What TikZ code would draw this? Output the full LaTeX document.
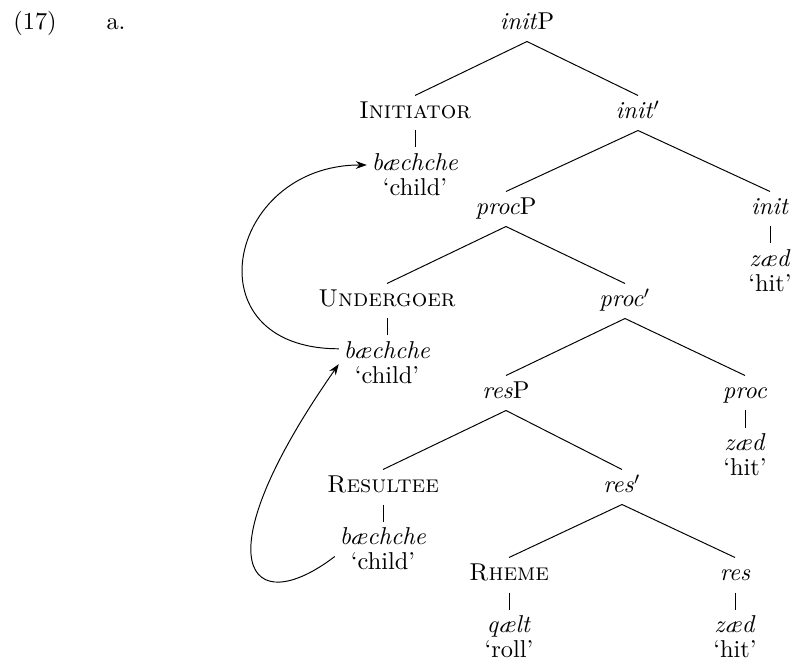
\documentclass[tikz,border=0pt]{standalone}
\usetikzlibrary{arrows.meta}
\tikzset{
  lab/.style={inner sep=1.9pt,text height=7.5pt,text depth=2.65pt},
  move/.style={-{Stealth[length=4.5pt,width=3.2pt]}}
}
\begin{document}
\begin{tikzpicture}[x=0.41pt,y=-0.41pt]
\useasboundingbox (0,0) rectangle (792,666);
%example number
\node[lab] (num) at (35,24) {(17)};
\node[lab] (sub) at (116,24) {a.};
%phrase labels
\node[lab] (initP) at (527,24) {\textit{init}P};
\node[lab] (initiator) at (415,113) {\textsc{Initiator}};
\node[lab] (initbar) at (638,113) {\textit{init}$'$};
\node[lab] (procP) at (506,209) {\textit{proc}P};
\node[lab] (init) at (770,209) {\textit{init}};
\node[lab] (undergoer) at (387,301) {\textsc{Undergoer}};
\node[lab] (procbar) at (625,301) {\textit{proc}$'$};
\node[lab] (resP) at (506,393) {\textit{res}P};
\node[lab] (proc) at (745,393) {\textit{proc}};
\node[lab] (resultee) at (383,487) {\textsc{Resultee}};
\node[lab] (resbar) at (622,487) {\textit{res}$'$};
\node[lab] (rheme) at (509,575) {\textsc{Rheme}};
\node[lab] (res) at (735,575) {\textit{res}};
%words and glosses
\node[lab] (bchA) at (415,165) {\textit{bæchche}};
\node[lab] (glA) at (415,190) {‘child’};
\node[lab] (zedA) at (770,261) {\textit{zæd}};
\node[lab] (glzA) at (770,286) {‘hit’};
\node[lab] (bchB) at (387,353) {\textit{bæchche}};
\node[lab] (glB) at (387,378) {‘child’};
\node[lab] (zedB) at (745,445) {\textit{zæd}};
\node[lab] (glzB) at (745,470) {‘hit’};
\node[lab] (bchC) at (383,539) {\textit{bæchche}};
\node[lab] (glC) at (383,564) {‘child’};
\node[lab] (qelt) at (509,627) {\textit{qælt}};
\node[lab] (glq) at (509,652) {‘roll’};
\node[lab] (zedC) at (735,627) {\textit{zæd}};
\node[lab] (glzC) at (735,652) {‘hit’};
%branches
\foreach \a/\b in {initP/initiator,initP/initbar,initbar/procP,initbar/init,
  procP/undergoer,procP/procbar,procbar/resP,procbar/proc,
  resP/resultee,resP/resbar,resbar/rheme,resbar/res}
  \draw (\a.south) -- (\b.north);
%bars down to the words
\foreach \a/\b in {initiator/bchA,init/zedA,undergoer/bchB,proc/zedB,
  resultee/bchC,rheme/qelt,res/zedC}
  \draw (\a.south) -- (\b.north);
%movement arrows
\draw[move] (bchB.175) .. controls +(-150,0) and +(-140,0) .. (bchA.west);
\draw[move] (bchC.south west) .. controls +(-85,65) and +(-140,200) .. (bchB.193);
\end{tikzpicture}
\end{document}
